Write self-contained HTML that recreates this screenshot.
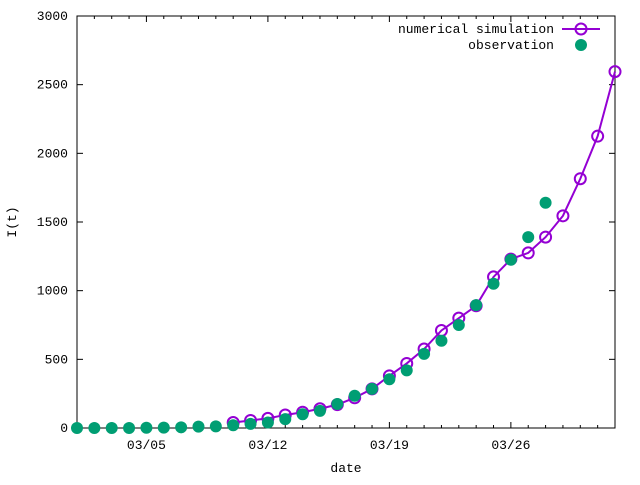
<!DOCTYPE html>
<html><head><meta charset="utf-8"><style>
body{margin:0;background:#fff}
text{font-family:"Liberation Mono",monospace;font-size:13px;fill:#000}
</style></head><body>
<svg id="chart" width="640" height="480" xmlns="http://www.w3.org/2000/svg">
<g id="grid"></g>
<rect x="77" y="16" width="538" height="412" fill="none" stroke="#000" stroke-width="1"/>
<text transform="translate(16,222) rotate(-90)" text-anchor="middle">I(t)</text>
<text x="346" y="472" text-anchor="middle">date</text>
<g>
<text x="554" y="33" text-anchor="end">numerical simulation</text>
<line x1="562" y1="29" x2="600" y2="29" stroke="#9400d3" stroke-width="2"/>
<circle cx="581" cy="29" r="5.5" fill="none" stroke="#9400d3" stroke-width="2"/>
<text x="554" y="49" text-anchor="end">observation</text>
<circle cx="581" cy="45" r="6" fill="#009e73"/>
</g>
<g id="series"></g>
</svg>
<script>
const simDays=[9,10,11,12,13,14,15,16,17,18,19,20,21,22,23,24,25,26,27,28,29,30,31];
const simValues=[40,55,70,95,115,140,170,220,285,380,470,575,710,800,890,1100,1230,1275,1390,1545,1815,2125,2595];
const obsDays=[0,1,2,3,4,5,6,7,8,9,10,11,12,13,14,15,16,17,18,19,20,21,22,23,24,25,26,27];
const obsValues=[0,0,0,0,2,3,5,10,12,20,30,40,65,100,125,175,235,285,355,420,540,635,750,895,1050,1225,1390,1640];
const xTickDays=[4,11,18,25];
const xTickLabels=["03/05","03/12","03/19","03/26"];
const yTicks=[0,500,1000,1500,2000,2500,3000];
const X0=77,X1=615,Y0=428,Y1=16,DMAX=31,VMAX=3000;
const NS="http://www.w3.org/2000/svg";
function xs(d){return X0+(X1-X0)*d/DMAX;}
function ys(v){return Y0-(Y0-Y1)*v/VMAX;}
function mk(tag,attrs,parent){const e=document.createElementNS(NS,tag);for(const k in attrs)e.setAttribute(k,attrs[k]);parent.appendChild(e);return e;}
const grid=document.getElementById('grid'),series=document.getElementById('series');
yTicks.forEach(v=>{
  const y=ys(v);
  let t=mk('line',{x1:X0,y1:y,x2:X0+6,y2:y,stroke:'#000'},grid);
  
  
  let t2=mk('line',{x1:X1-6,y1:y,x2:X1,y2:y,stroke:'#000'},grid);
  
  
  let l=mk('text',{x:68,y:y+4,'text-anchor':'end'},grid);l.textContent=v;
  
  
});
for(let d=0;d<=DMAX;d++){
  const x=xs(d),len=xTickDays.includes(d)?6:3;
  let t=mk('line',{x1:x,y1:Y0,x2:x,y2:Y0-len,stroke:'#000'},grid);
  
  
  let t2=mk('line',{x1:x,y1:Y1,x2:x,y2:Y1+len,stroke:'#000'},grid);
  
  
}
xTickDays.forEach((d,i)=>{
  let l=mk('text',{x:xs(d),y:449,'text-anchor':'middle'},grid);l.textContent=xTickLabels[i];
  
  
});
const pts=simDays.map((d,i)=>xs(d)+','+ys(simValues[i])).join(' ');
let pl=mk('polyline',{points:pts,fill:'none',stroke:'#9400d3','stroke-width':2},series);


simDays.forEach((d,i)=>{
  let c=mk('circle',{cx:xs(d),cy:ys(simValues[i]),r:5.5,fill:'none',stroke:'#9400d3','stroke-width':2},series);
  
  
});
obsDays.forEach((d,i)=>{
  let c=mk('circle',{cx:xs(d),cy:ys(obsValues[i]),r:6,fill:'#009e73'},series);
  
  
});
</script>
</body></html>
